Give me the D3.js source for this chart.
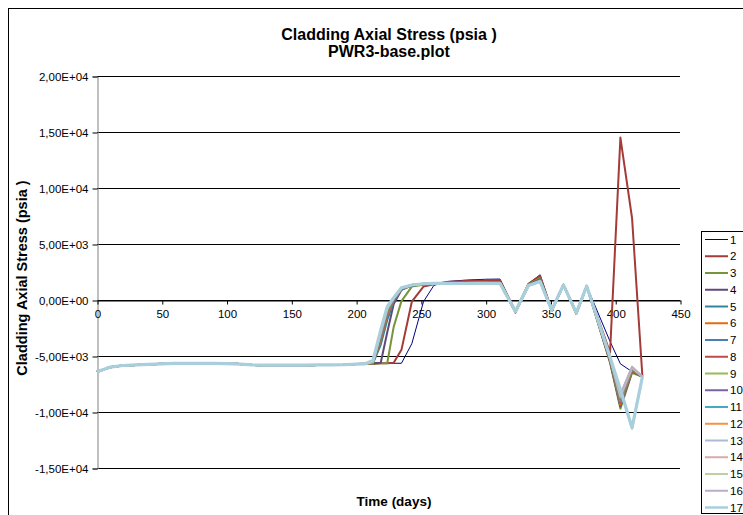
<!DOCTYPE html>
<html>
<head>
<meta charset="utf-8">
<script src="https://cdn.jsdelivr.net/npm/d3@7"></script>
<style>
  html, body { margin: 0; padding: 0; background: #fff; }
  svg { display: block; font-family: "Liberation Sans", Arial, sans-serif; }
</style>
</head>
<body>
<svg id="chart" width="743" height="515"></svg>
<script>
// Time steps (days)
const times = [0, 10, 20, 30, 40, 50, 60, 70, 80, 90, 100, 110, 120, 130, 140, 150, 160, 170, 180, 190, 200, 207,
  213, 219, 224, 229, 235, 243, 252, 260, 270, 285, 300, 311, 323, 333, 342, 351, 360, 370, 378, 396, 404, 413, 421];

// Common first-cycle history shared by all axial nodes (t = 0 .. 207)
const baseStress = [-6400, -6000, -5850, -5800, -5750, -5700, -5650, -5650, -5650, -5650, -5680, -5720,
  -5800, -5820, -5820, -5820, -5820, -5800, -5800, -5780, -5720, -5700];

// Per-node history from t = 213 onward
const s1  = [-5700, -5650, -5650, -5650, -5650, -3900, -150, 1300, 1650, 1780, 1850, 1870, -1000, 1450, 2250, -850, 1350, -1100, 1250, -3700, -5700, -6400, -6850];
const s2  = [-5700, -5650, -5650, -5600, -4450, -150, 1200, 1400, 1600, 1700, 1750, 1780, -1000, 1450, 2150, -900, 1350, -1100, 1250, -4700, 14500, 7300, -6850];
const s3  = [-5700, -5650, -5650, -2400, -100, 1200, 1350, 1450, 1500, 1550, 1600, 1600, -1150, 1400, 1950, -950, 1350, -1150, 1250, -5600, -9700, -6500, -6850];
const s4  = [-5650, -5600, -2900, -350, 900, 1300, 1400, 1450, 1500, 1550, 1550, 1580, -1050, 1350, 1850, -950, 1350, -1150, 1250, -5500, -9500, -6400, -6850];
const s5  = [-5650, -4000, -1800, -100, 900, 1300, 1400, 1450, 1500, 1520, 1540, 1550, -1050, 1350, 1800, -950, 1350, -1150, 1250, -5400, -9400, -6300, -6850];
const s6  = [-5650, -3600, -1400, 0, 950, 1350, 1420, 1460, 1500, 1520, 1530, 1540, -1050, 1330, 1780, -950, 1350, -1250, 1250, -5400, -9300, -6300, -6850];
const s7  = [-5600, -3400, -1200, 50, 1000, 1350, 1420, 1460, 1500, 1510, 1520, 1530, -1050, 1320, 1760, -950, 1350, -1200, 1250, -5300, -9200, -6200, -6850];
const s8  = [-5600, -3300, -1100, 80, 1000, 1350, 1430, 1470, 1500, 1510, 1520, 1520, -1050, 1320, 1740, -950, 1350, -1200, 1250, -5300, -9100, -6200, -6850];
const s9  = [-5600, -3200, -1000, 100, 1050, 1350, 1430, 1470, 1500, 1510, 1510, 1520, -1050, 1310, 1720, -950, 1350, -1200, 1250, -5250, -9000, -6150, -6850];
const s10 = [-5550, -3100, -900, 120, 1050, 1350, 1440, 1470, 1500, 1500, 1510, 1510, -1050, 1310, 1700, -950, 1350, -1200, 1250, -5200, -8900, -6100, -6850];
const s11 = [-5550, -3000, -850, 140, 1050, 1350, 1440, 1470, 1500, 1500, 1500, 1510, -1050, 1300, 1690, -950, 1350, -1200, 1250, -5200, -8800, -6100, -6850];
const s12 = [-5550, -2950, -800, 160, 1080, 1350, 1440, 1480, 1500, 1500, 1500, 1500, -1050, 1300, 1680, -950, 1350, -1250, 1250, -5150, -8700, -6050, -6850];
const s13 = [-5500, -2900, -750, 170, 1080, 1350, 1450, 1480, 1500, 1500, 1500, 1500, -1050, 1300, 1670, -950, 1350, -1200, 1250, -5150, -8600, -6000, -6850];
const s14 = [-5500, -2850, -700, 180, 1100, 1340, 1450, 1480, 1500, 1500, 1500, 1500, -1050, 1300, 1660, -950, 1350, -1200, 1250, -5100, -8100, -11500, -6850];
const s15 = [-5500, -2800, -680, 190, 1100, 1340, 1450, 1480, 1490, 1490, 1490, 1490, -1050, 1300, 1650, -950, 1350, -1200, 1250, -5100, -8500, -6000, -6850];
const s16 = [-5450, -2750, -650, 195, 1100, 1340, 1450, 1480, 1490, 1490, 1490, 1490, -1050, 1300, 1650, -950, 1350, -1200, 1250, -5100, -8400, -5950, -6850];
const s17 = [-5400, -2700, -600, 200, 1100, 1340, 1450, 1480, 1490, 1490, 1490, 1490, -1000, 1300, 1650, -900, 1350, -1150, 1250, -5100, -8000, -11400, -6850];

const seriesNames = ["1", "2", "3", "4", "5", "6", "7", "8", "9", "10", "11", "12", "13", "14", "15", "16", "17"];
const seriesTails = [s1, s2, s3, s4, s5, s6, s7, s8, s9, s10, s11, s12, s13, s14, s15, s16, s17];
const seriesColors = ["#000080", "#A33B38", "#77933C", "#5F497A", "#31859C", "#E46C0A", "#4A7EBB", "#BE4B48",
  "#98B954", "#7D60A0", "#46AAC5", "#F69240", "#AABAD7", "#D9AAA9", "#BFD0A0", "#B9ADCB", "#A8CFDC"];
const seriesWidths = [1, 2, 2, 2, 2, 2, 2, 2, 2, 2, 2, 2, 2, 2, 2, 2, 3.2];

const xTicks = [0, 50, 100, 150, 200, 250, 300, 350, 400, 450];
const yTicks = [-15000, -10000, -5000, 0, 5000, 10000, 15000, 20000];

const titleLines = ["Cladding Axial Stress (psia )", "PWR3-base.plot"];
const yTitle = "Cladding Axial Stress (psia )";
const xTitle = "Time (days)";

// ---- drawing ----
const svg = d3.select("#chart");

// chart frame
svg.append("rect")
  .attr("x", 8.5).attr("y", 8.5).attr("width", 900).attr("height", 700)
  .attr("fill", "#fff").attr("stroke", "#000").attr("stroke-width", 1);

const x = d3.scaleLinear().domain([0, 450]).range([97, 680]);
const y = d3.scaleLinear().domain([-15000, 20000]).range([468, 76]);

// Excel-style scientific labels with decimal comma: 2,00E+04
function sci(v) {
  if (v === 0) return "0,00E+00";
  const e = Math.floor(Math.log10(Math.abs(v)));
  const m = (v / Math.pow(10, e)).toFixed(2).replace(".", ",");
  const es = (e < 0 ? "-" : "+") + String(Math.abs(e)).padStart(2, "0");
  return m + "E" + es;
}

// horizontal gridlines
svg.append("g")
  .selectAll("line")
  .data(yTicks)
  .join("line")
  .attr("x1", x(0)).attr("x2", x(450))
  .attr("y1", d => Math.round(y(d)) + 0.5).attr("y2", d => Math.round(y(d)) + 0.5)
  .attr("stroke", "#000").attr("stroke-width", 1);

// y axis
const yAxis = d3.axisLeft(y).tickValues(yTicks).tickFormat(sci).tickSize(5).tickPadding(4);
const gy = svg.append("g")
  .attr("transform", `translate(${x(0) + 0.5},0.5)`)
  .call(yAxis);
gy.select(".domain").attr("stroke", "#808080");
gy.selectAll(".tick line").attr("stroke", "#000");
gy.selectAll(".tick text").attr("font-size", 11.5).attr("fill", "#000")
  .attr("font-family", "Liberation Sans, Arial, sans-serif");

// x axis crossing at zero stress
const xAxis = d3.axisBottom(x).tickValues(xTicks).tickFormat(d3.format("d")).tickSize(4).tickPadding(5).tickSizeOuter(0);
const gx = svg.append("g")
  .attr("transform", `translate(0.5,${Math.round(y(0)) + 0.5})`)
  .call(xAxis);
gx.select(".domain").attr("stroke", "#000");
gx.selectAll(".tick line").attr("stroke", "#000");
gx.selectAll(".tick text").attr("font-size", 11.5).attr("fill", "#000")
  .attr("font-family", "Liberation Sans, Arial, sans-serif");

// series lines
const line = d3.line()
  .x(d => x(d[0]))
  .y(d => y(d[1]));

const seriesData = seriesNames.map((name, i) => {
  const values = baseStress.concat(seriesTails[i]);
  return { name, color: seriesColors[i], width: seriesWidths[i], points: times.map((t, k) => [t, values[k]]) };
});

svg.append("g")
  .selectAll("path")
  .data(seriesData)
  .join("path")
  .attr("d", d => line(d.points))
  .attr("fill", "none")
  .attr("stroke", d => d.color)
  .attr("stroke-width", d => d.width)
  .attr("stroke-linejoin", "round");

// titles
svg.append("g")
  .selectAll("text")
  .data(titleLines)
  .join("text")
  .attr("x", 389)
  .attr("y", (d, i) => 40 + i * 17)
  .attr("text-anchor", "middle")
  .attr("font-size", 16)
  .attr("font-weight", "bold")
  .text(d => d);

svg.append("text")
  .attr("transform", "translate(27,278) rotate(-90)")
  .attr("text-anchor", "middle")
  .attr("font-size", 14.5)
  .attr("font-weight", "bold")
  .text(yTitle);

svg.append("text")
  .attr("x", 394).attr("y", 506)
  .attr("text-anchor", "middle")
  .attr("font-size", 13.5)
  .attr("font-weight", "bold")
  .text(xTitle);

// legend
const legend = svg.append("g");
legend.append("rect")
  .attr("x", 701.5).attr("y", 231.5).attr("width", 80).attr("height", 282)
  .attr("fill", "#fff").attr("stroke", "#000").attr("stroke-width", 1);

const items = legend.selectAll("g.item")
  .data(seriesData)
  .join("g")
  .attr("class", "item")
  .attr("transform", (d, i) => `translate(0,${239.5 + i * 16.75})`);
items.append("line")
  .attr("x1", 705).attr("x2", 728)
  .attr("stroke", d => d.color)
  .attr("stroke-width", d => Math.min(d.width, 2.5));
items.append("text")
  .attr("x", 730).attr("y", 4)
  .attr("font-size", 11.5)
  .text(d => d.name);
</script>
</body>
</html>
